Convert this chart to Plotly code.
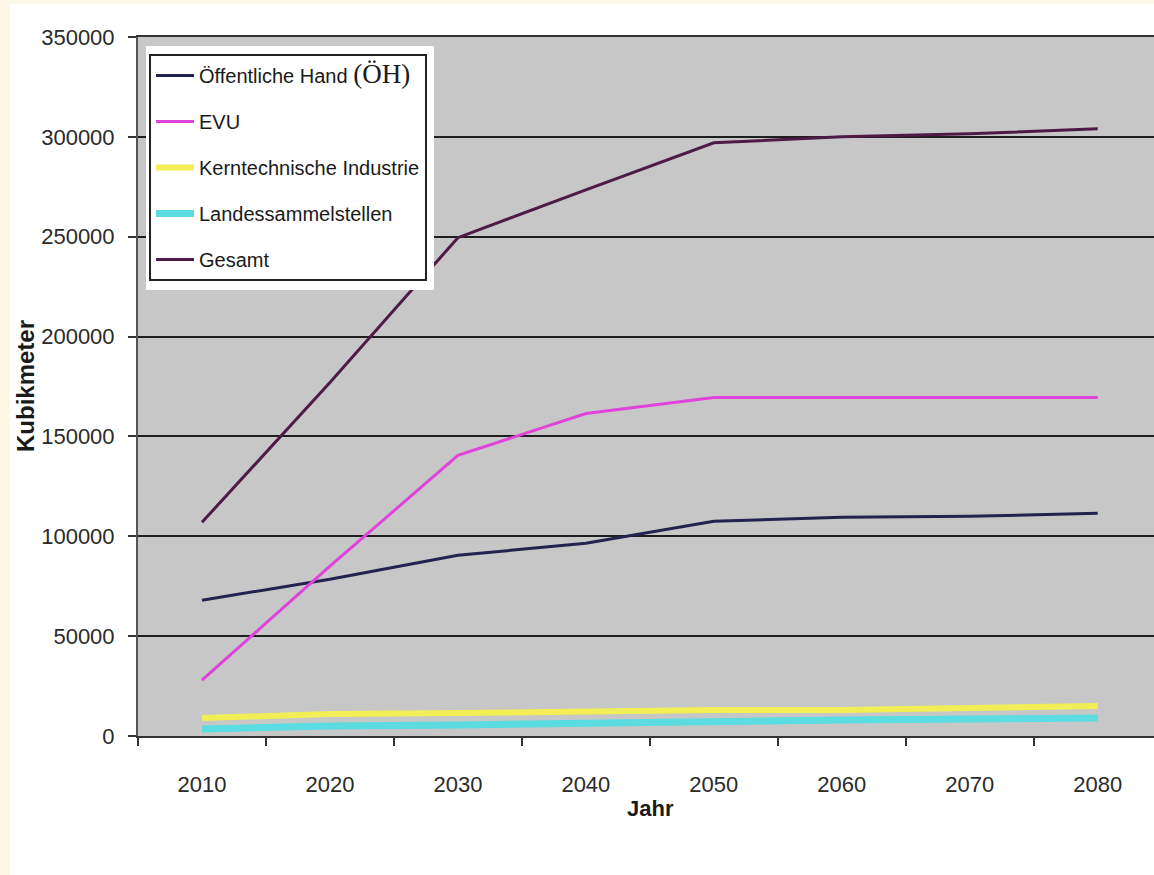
import plotly.graph_objects as go

years = ["2010", "2020", "2030", "2040", "2050", "2060", "2070", "2080"]
oeh = [68000, 78500, 90500, 96500, 107500, 109500, 110000, 111500]
evu = [28000, 85000, 140500, 161500, 169500, 169500, 169500, 169500]
kern = [9000, 11000, 11500, 12500, 13000, 13000, 14000, 15000]
landes = [3500, 5000, 5500, 6500, 7500, 8000, 8500, 9000]
gesamt = [107000, 177000, 249500, 273500, 297000, 300000, 301500, 304000]
y_ticks = [0, 50000, 100000, 150000, 200000, 250000, 300000, 350000]

W, H = 1154, 875
L, T, B = 138, 37, 736
PW, PH = W - L, B - T


def px_x(p):
    return (p - L) / PW


def px_y(p):
    return 1 - (p - T) / PH


series = [
    ("Öffentliche Hand <span style='font-family:Liberation Serif;font-size:27px'>(ÖH)</span>", oeh, "#23234F", 3),
    ("EVU", evu, "#E042DC", 3),
    ("Kerntechnische Industrie", kern, "#F2EE55", 6),
    ("Landessammelstellen", landes, "#5ADCE0", 7),
    ("Gesamt", gesamt, "#4E1A46", 3),
]

fig = go.Figure()
for i, (name, vals, col, w) in enumerate(series):
    fig.add_trace(go.Scatter(x=years, y=vals, mode="lines", name=name,
                             line=dict(color=col, width=w),
                             legendgroup=f"g{i}"))

font_fam = "Liberation Sans, Arial, sans-serif"

fig.update_layout(
    width=W, height=H,
    margin=dict(l=L, r=0, t=T, b=H - B),
    paper_bgcolor="white",
    plot_bgcolor="#C7C7C7",
    font=dict(family=font_fam, size=22, color="#2a2a2a"),
    showlegend=True,
    legend=dict(x=px_x(149), y=px_y(54), xanchor="left", yanchor="top",
                bgcolor="white", bordercolor="#222222", borderwidth=2,
                font=dict(family=font_fam, size=20, color="#1a1a1a"),
                itemwidth=38,
                traceorder="grouped", tracegroupgap=17),
    xaxis=dict(type="category", range=[-0.5, 7.44],
               showgrid=False, showline=True, linecolor="#333333", linewidth=2,
               mirror=True, ticks="outside", tickson="boundaries",
               ticklen=8, tickwidth=2, tickcolor="#333333",
               ticklabelstandoff=28, tickfont=dict(size=22, color="#2a2a2a")),
    yaxis=dict(range=[0, 350000], tickvals=y_ticks,
               ticktext=[str(v) for v in y_ticks],
               showgrid=True, gridcolor="#1e1e1e", gridwidth=2,
               zeroline=False, showline=True, linecolor="#555555", linewidth=2,
               ticks="outside", ticklen=8, tickwidth=2, tickcolor="#333333",
               ticklabelstandoff=9, tickfont=dict(size=22, color="#2a2a2a")),
    annotations=[
        dict(text="<b>Jahr</b>", xref="paper", yref="paper", x=px_x(650), y=px_y(808),
             xanchor="center", yanchor="middle",
             showarrow=False, font=dict(size=22, color="#1a1a1a")),
        dict(text="<b>Kubikmeter</b>", xref="paper", yref="paper", x=px_x(25), y=px_y(386),
             xanchor="center", yanchor="middle",
             textangle=-90, showarrow=False, font=dict(size=24, color="#1a1a1a")),
    ],
    shapes=[
        dict(type="rect", xref="paper", yref="paper", layer="above",
             x0=px_x(146), x1=px_x(434), y0=px_y(290), y1=px_y(46),
             fillcolor="white", line=dict(width=0)),
        dict(type="rect", xref="paper", yref="paper", layer="below",
             x0=px_x(0), x1=px_x(10), y0=px_y(H + 5), y1=px_y(-5),
             fillcolor="#FDF8E6", line=dict(width=0)),
        dict(type="rect", xref="paper", yref="paper", layer="below",
             x0=px_x(0), x1=px_x(W + 5), y0=px_y(4), y1=px_y(-5),
             fillcolor="#FDF8E6", line=dict(width=0)),
    ],
)

fig.write_html("out.html", config={"displayModeBar": False},
               post_script="document.body.style.margin='0px';document.body.style.overflow='hidden';")
